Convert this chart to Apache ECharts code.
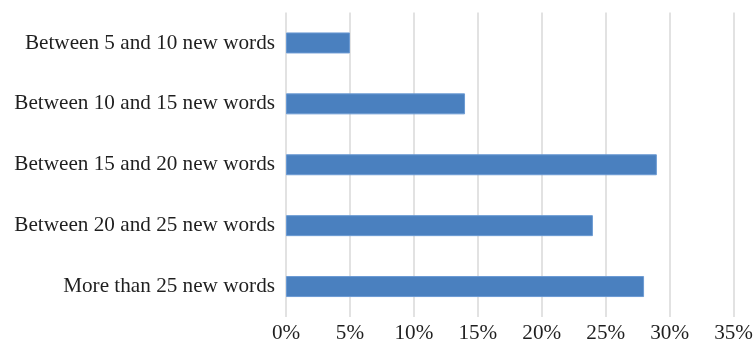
<!DOCTYPE html>
<html>
<head>
<meta charset="utf-8">
<script src="https://cdn.jsdelivr.net/npm/echarts@6/dist/echarts.min.js"></script>
<style>html,body{margin:0;padding:0;background:#fff;}#c{width:756px;height:344px;}</style>
</head>
<body>
<div id="c"></div>
<script>
const categories = ["Between 5 and 10 new words", "Between 10 and 15 new words", "Between 15 and 20 new words", "Between 20 and 25 new words", "More than 25 new words"];
const values = [5, 14, 29, 24, 28];
const xTicks = [0, 5, 10, 15, 20, 25, 30, 35];

const chart = echarts.init(document.getElementById('c'), null, {renderer: 'canvas'});
const font = '"Liberation Serif", "Times New Roman", serif';
chart.setOption({
  animation: false,
  backgroundColor: '#ffffff',
  grid: {left: 286, right: 21, top: 12.5, bottom: 26.5, containLabel: false},
  xAxis: {
    type: 'value',
    min: xTicks[0],
    max: xTicks[xTicks.length - 1],
    interval: 5,
    axisLine: {show: false},
    axisTick: {show: false},
    splitLine: {show: true, lineStyle: {color: '#d9d9d9', width: 1.5}},
    axisLabel: {formatter: v => v + '%', fontFamily: font, fontSize: 21.2, color: '#1f1f1f', margin: 6}
  },
  yAxis: {
    type: 'category',
    data: categories,
    inverse: true,
    axisLine: {show: false},
    axisTick: {show: false},
    axisLabel: {fontFamily: font, fontSize: 21.2, color: '#1f1f1f', margin: 11}
  },
  series: [{
    type: 'bar',
    data: values,
    barWidth: 21,
    itemStyle: {color: '#4a80bf', borderColor: '#6b9ad3', borderWidth: 1}
  }]
});
</script>
</body>
</html>
